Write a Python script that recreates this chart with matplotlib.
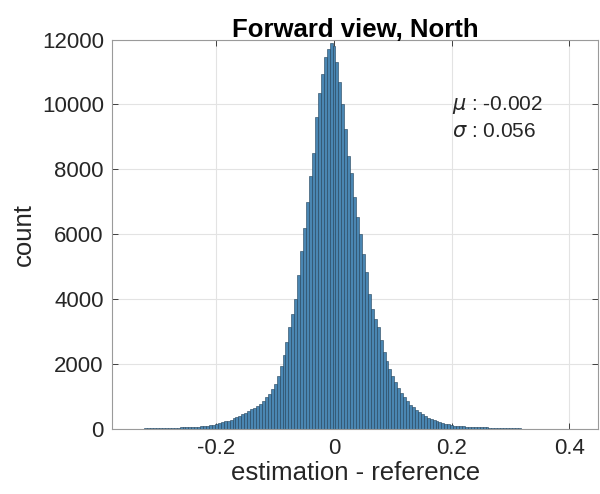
import numpy as np
import matplotlib
matplotlib.use('Agg')
import matplotlib.pyplot as plt

# histogram of estimation error, bins of 0.005 starting at -0.35
bin_start = -0.35
bin_width = 0.005
counts = [
    10, 15, 18, 20, 22, 24, 26, 28, 30, 32,
    34, 36, 38, 40, 43, 46, 49, 52, 56, 60,
    64, 68, 72, 77, 82, 88, 95, 105, 118, 140,
    170, 195, 215, 240, 270, 300, 340, 375, 420, 460,
    510, 560, 610, 660, 720, 790, 880, 1000, 1100, 1230,
    1400, 1650, 1950, 2300, 2700, 3150, 3550, 4000, 4750, 5500,
    6200, 7000, 7800, 8500, 9600, 10350, 10950, 11450, 11700, 11900,
    # 0.000 onwards
    11800, 11300, 10700, 10000, 9250, 8400, 7900, 7150, 6550, 6000,
    5400, 4850, 4150, 3700, 3400, 3150, 2750, 2380, 2100, 1850,
    1650, 1450, 1280, 1120, 980, 870, 760, 680, 600, 530,
    470, 410, 360, 310, 275, 245, 220, 200, 175, 150,
    130, 115, 102, 96, 90, 85, 80, 75, 70, 66,
    62, 58, 55, 51, 48, 45, 42, 39, 37, 34,
    32, 30, 28, 26, 24, 22, 20, 18, 16, 14,
    12, 10, 8, 7, 5, 4, 3, 3, 2, 2,
    1, 1, 1, 1,
]
mu = -0.002
sigma = 0.056
xticks = [-0.2, 0, 0.2, 0.4]
xtick_labels = ['-0.2', '0', '0.2', '0.4']
yticks = [0, 2000, 4000, 6000, 8000, 10000, 12000]

plt.rcParams['font.family'] = ['Liberation Sans', 'DejaVu Sans']

centers = bin_start + bin_width * np.arange(len(counts))

fig = plt.figure(figsize=(6, 4.94), dpi=100)
ax = fig.add_axes([0.187, 0.131, 0.81, 0.789])

ax.bar(centers, counts, width=bin_width, color='#4a86b2',
       edgecolor='#1f3f58', linewidth=0.4, zorder=2)

ax.set_xlim(-0.377, 0.449)
ax.set_ylim(0, 12000)
ax.set_xticks(xticks)
ax.set_xticklabels(xtick_labels)
ax.set_yticks(yticks)
ax.tick_params(direction='in', length=4, width=0.6, colors='#262626',
               labelsize=16, top=True, right=True, pad=6)
for s in ax.spines.values():
    s.set_color('#9a9a9a')
    s.set_linewidth(0.8)
ax.grid(True, color='#e3e3e3', linewidth=0.8, zorder=0)
ax.set_axisbelow(True)

ax.set_title('Forward view, North', fontsize=18.5, fontweight='bold', pad=2)
ax.set_xlabel('estimation - reference', fontsize=18.5, color='#262626', labelpad=2)
ax.set_ylabel('count', fontsize=18.5, color='#262626', labelpad=4)

ax.text(0.70, 0.833, r'$\mu$ : %.3f' % mu, transform=ax.transAxes,
        fontsize=15, va='center', ha='left', color='#262626')
ax.text(0.70, 0.764, r'$\sigma$ : %.3f' % sigma, transform=ax.transAxes,
        fontsize=15, va='center', ha='left', color='#262626')

fig.savefig('out.png', dpi=100)
